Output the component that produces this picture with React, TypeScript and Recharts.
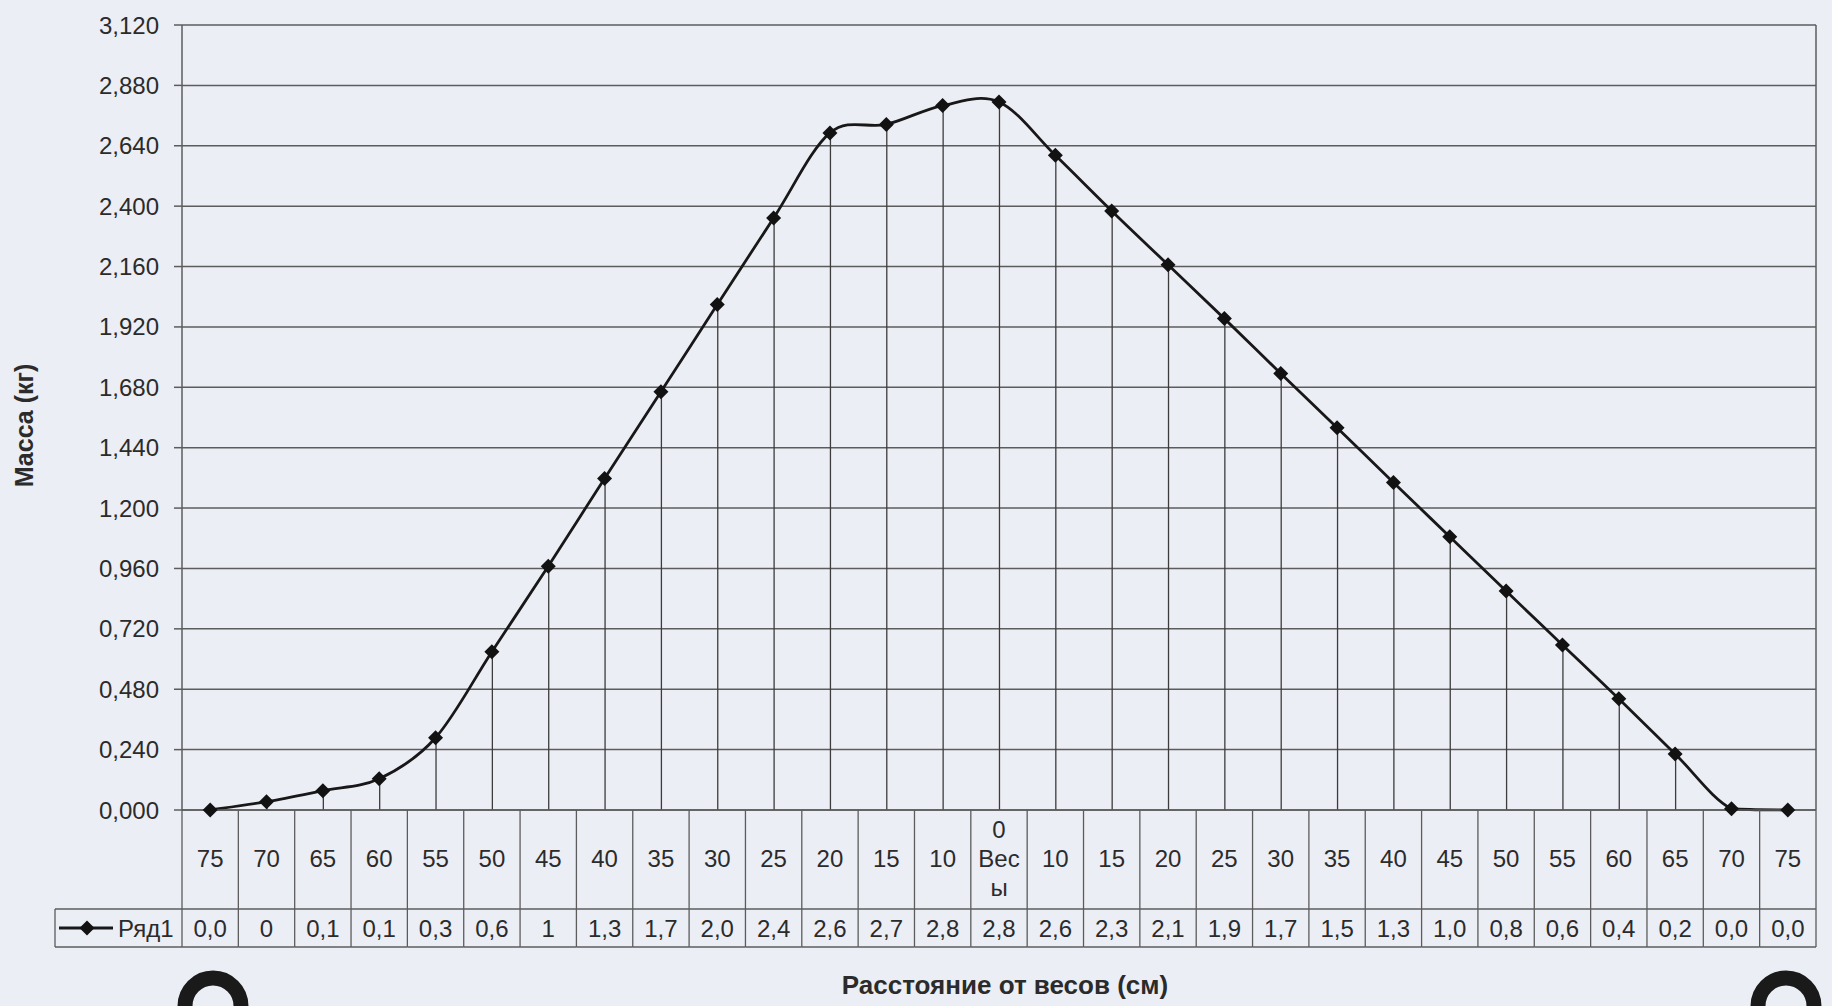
import { ComposedChart, Line, Bar, XAxis, YAxis, CartesianGrid } from 'recharts'

// distance from the scale (cm), left side -> scale -> right side
const distances = [
  '75', '70', '65', '60', '55', '50', '45', '40', '35', '30', '25', '20', '15', '10',
  '0\nВес\nы',
  '10', '15', '20', '25', '30', '35', '40', '45', '50', '55', '60', '65', '70', '75',
]

// measured mass (kg) at each distance
const mass = [
  0, 0.033, 0.077, 0.124, 0.287, 0.629, 0.969, 1.318, 1.662, 2.009, 2.353, 2.691, 2.725, 2.8,
  2.814,
  2.602, 2.381, 2.167, 1.953, 1.735, 1.519, 1.302, 1.086, 0.87, 0.656, 0.442, 0.223, 0.005, 0,
]

// number format of each data-table cell: r = rounded, t = truncated, digit = decimals
const cellFormats = [
  'r1', 'r0', 'r1', 'r1', 'r1', 'r1', 'r0', 'r1', 'r1', 'r1', 'r1', 't1', 't1', 't1',
  't1',
  't1', 't1', 't1', 't1', 't1', 't1', 't1', 't1', 't1', 't1', 't1', 't1', 't1', 't1',
]

const yTicks = [0, 0.24, 0.48, 0.72, 0.96, 1.2, 1.44, 1.68, 1.92, 2.16, 2.4, 2.64, 2.88, 3.12]

const seriesName = 'Ряд1'

const data = distances.map((d, i) => ({ distance: d, mass: mass[i], fmt: cellFormats[i] }))

const FONT = "'Liberation Sans', Arial, sans-serif"
const INK = '#2b2b2b'
const GRID = '#5c5c5c'
const SERIES = '#181818'

function formatCell(v: number, fmt: string) {
  const digits = Number(fmt.slice(1))
  const k = Math.pow(10, digits)
  const n = fmt[0] === 't' ? Math.floor(v * k + 1e-9) / k : Math.round(v * k) / k
  return n.toFixed(digits).replace('.', ',')
}

// Excel-style smoothed line (Catmull-Rom through every point),
// control points kept from dipping under the lowest point
function excelSmooth(context: any) {
  let pts: [number, number][] = []
  return {
    areaStart() {},
    areaEnd() {},
    lineStart() {
      pts = []
    },
    point(x: number, y: number) {
      pts.push([+x, +y])
    },
    lineEnd() {
      if (!pts.length) return
      const floor = Math.max(...pts.map((p) => p[1]))
      const lim = (y: number) => Math.min(y, floor)
      context.moveTo(pts[0][0], pts[0][1])
      for (let i = 0; i < pts.length - 1; i++) {
        const p0 = pts[Math.max(i - 1, 0)]
        const p1 = pts[i]
        const p2 = pts[i + 1]
        const p3 = pts[Math.min(i + 2, pts.length - 1)]
        context.bezierCurveTo(
          p1[0] + (p2[0] - p0[0]) / 6,
          lim(p1[1] + (p2[1] - p0[1]) / 6),
          p2[0] - (p3[0] - p1[0]) / 6,
          lim(p2[1] - (p3[1] - p1[1]) / 6),
          p2[0],
          p2[1],
        )
      }
    },
  }
}

const diamondPath = (cx: number, cy: number, r: number) =>
  `M${cx},${cy - r}L${cx + r},${cy}L${cx},${cy + r}L${cx - r},${cy}Z`

function renderDiamond(props: any) {
  const { cx, cy, index } = props
  if (cx == null || cy == null) return <g key={index} />
  return <path key={index} d={diamondPath(cx, cy, 7.5)} fill="#121212" />
}

// category axis drawn as an Excel data table: distance row + value row
function TableTick(props: any) {
  const { x, y, payload, index, width, visibleTicksCount } = props
  const band = width && visibleTicksCount ? width / visibleTicksCount : 56.34
  const left = x - band / 2
  const right = x + band / 2
  const midRow = y + 99
  const valueY = y + 118
  const bottom = y + 137
  const row = data[index]
  const lines = String(payload.value).split('\n')
  const lineStep = 29
  const labelY = y + 48 - ((lines.length - 1) * lineStep) / 2
  const line = { stroke: GRID, strokeWidth: 1.3 }
  const legendLeft = left - 127

  return (
    <g fontFamily={FONT} fontSize={24} fill={INK}>
      {index === 0 && (
        <g>
          <line x1={left} y1={y} x2={left} y2={bottom} {...line} />
          <line x1={legendLeft} y1={midRow} x2={left} y2={midRow} {...line} />
          <line x1={legendLeft} y1={bottom} x2={left} y2={bottom} {...line} />
          <line x1={legendLeft} y1={midRow} x2={legendLeft} y2={bottom} {...line} />
          <line x1={legendLeft + 4} y1={valueY} x2={legendLeft + 58} y2={valueY} stroke={SERIES} strokeWidth={2.8} />
          <path d={diamondPath(legendLeft + 32, valueY, 7.5)} fill="#121212" />
          <text x={legendLeft + 63} y={valueY} dy="0.36em" textAnchor="start">
            {seriesName}
          </text>
        </g>
      )}
      <line x1={right} y1={y} x2={right} y2={bottom} {...line} />
      <line x1={left} y1={midRow} x2={right} y2={midRow} {...line} />
      <line x1={left} y1={bottom} x2={right} y2={bottom} {...line} />
      {lines.map((t, i) => (
        <text key={i} x={x} y={labelY + i * lineStep} dy="0.36em" textAnchor="middle">
          {t}
        </text>
      ))}
      <text x={x} y={valueY} dy="0.36em" textAnchor="middle">
        {formatCell(row.mass, row.fmt)}
      </text>
    </g>
  )
}

function MassTitle(props: any) {
  const { viewBox } = props
  const cx = 24
  const cy = viewBox.y + viewBox.height / 2 + 8
  return (
    <text
      x={cx}
      y={cy}
      transform={`rotate(-90 ${cx} ${cy})`}
      textAnchor="middle"
      dy="0.36em"
      fontFamily={FONT}
      fontSize={25}
      fontWeight="bold"
      fill={INK}
    >
      Масса (кг)
    </text>
  )
}

export default function App() {
  return (
    <div
      style={{
        position: 'absolute',
        left: 0,
        top: 0,
        width: 1832,
        height: 1006,
        background: '#eceef5',
        overflow: 'hidden',
      }}
    >
      <ComposedChart
        width={1832}
        height={1006}
        data={data}
        margin={{ top: 25, right: 0, bottom: 0, left: 0 }}
      >
        <CartesianGrid vertical={false} stroke={GRID} strokeWidth={1.5} yAxisId="mass" />
        <XAxis
          dataKey="distance"
          height={196}
          interval={0}
          tickSize={0}
          tickMargin={0}
          tickLine={false}
          axisLine={{ stroke: GRID, strokeWidth: 1.5 }}
          tick={<TableTick />}
          label={{
            value: 'Расстояние от весов (см)',
            position: 'insideBottom',
            offset: 12,
            dx: 6,
            style: { fontFamily: FONT, fontSize: 26, fontWeight: 'bold', fill: INK },
          }}
        />
        <YAxis
          yAxisId="mass"
          width={182}
          domain={[0, 3.12]}
          ticks={yTicks}
          interval={0}
          tickSize={8}
          tickMargin={15}
          axisLine={{ stroke: GRID, strokeWidth: 1.5 }}
          tickLine={{ stroke: GRID, strokeWidth: 1.5 }}
          tick={{ fontFamily: FONT, fontSize: 24, fill: INK }}
          tickFormatter={(v: number) => v.toFixed(3).replace('.', ',')}
          label={<MassTitle />}
        />
        <YAxis
          yAxisId="frame"
          orientation="right"
          width={16}
          domain={[0, 3.12]}
          tick={false}
          tickLine={false}
          axisLine={{ stroke: GRID, strokeWidth: 1.5 }}
        />
        {/* drop lines from each point to the axis */}
        <Bar yAxisId="mass" dataKey="mass" barSize={1.3} fill="#3c3c3c" isAnimationActive={false} />
        <Line
          yAxisId="mass"
          dataKey="mass"
          name={seriesName}
          type={excelSmooth as any}
          stroke={SERIES}
          strokeWidth={2.8}
          dot={renderDiamond}
          activeDot={false}
          isAnimationActive={false}
        />
      </ComposedChart>
      {/* binder holes along the bottom edge */}
      <svg
        width={1832}
        height={1006}
        style={{ position: 'absolute', left: 0, top: 0, pointerEvents: 'none' }}
      >
        <circle cx={213} cy={1006} r={28} fill="none" stroke="#1a1a1a" strokeWidth={15} />
        <circle cx={1786} cy={1006} r={28} fill="none" stroke="#1a1a1a" strokeWidth={15} />
      </svg>
    </div>
  )
}
